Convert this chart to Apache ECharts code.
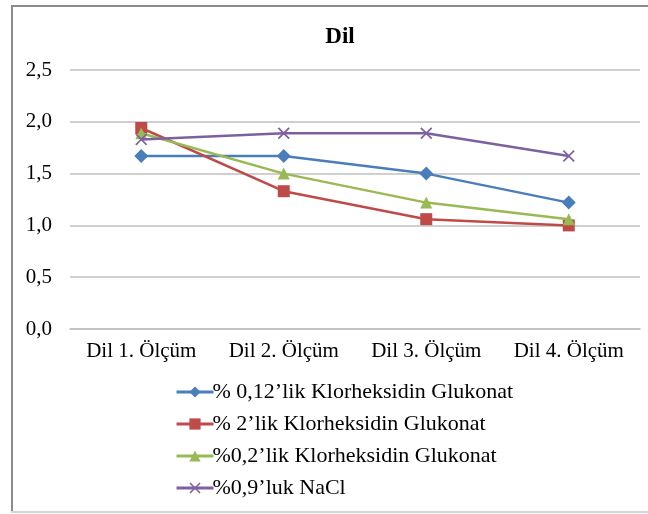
<!DOCTYPE html>
<html>
<head>
<meta charset="utf-8">
<script src="https://cdn.jsdelivr.net/npm/echarts@6/dist/echarts.min.js"></script>
<style>
  html, body { margin: 0; padding: 0; background: #fff; }
  #chart { width: 648px; height: 514px; }
</style>
</head>
<body>
<div id="chart"></div>
<script>
// kategoriler
var categories = ['Dil 1. Ölçüm', 'Dil 2. Ölçüm', 'Dil 3. Ölçüm', 'Dil 4. Ölçüm'];
var seriesNames = [
	'% 0,12’lik Klorheksidin Glukonat',
	'% 2’lik Klorheksidin Glukonat',
	'%0,2’lik Klorheksidin Glukonat',
	'%0,9’luk NaCl'
];
// ölçüm değerleri
var chx012 = [1.67, 1.67, 1.50, 1.22];
var chx2 = [1.94, 1.33, 1.06, 1.00];
var chx02 = [1.89, 1.50, 1.22, 1.06];
var nacl = [1.83, 1.89, 1.89, 1.67];
var yTicks = ['0,0', '0,5', '1,0', '1,5', '2,0', '2,5'];

var font = "'Liberation Serif', 'Times New Roman', serif";
var colors = ['#4a7ebb', '#be4b48', '#98b954', '#7d60a0'];
var xSymbol = 'path://M0,1 L1,0 L5,4 L9,0 L10,1 L6,5 L10,9 L9,10 L5,6 L1,10 L0,9 L4,5 Z';

var myChart = echarts.init(document.getElementById('chart'));

function lineSeries(idx, data, symbol, size) {
	return {
		name: seriesNames[idx],
		type: 'line',
		data: data,
		symbol: symbol,
		symbolSize: size,
		showAllSymbol: true,
		lineStyle: { color: colors[idx], width: 2.5 },
		itemStyle: { color: colors[idx] },
		z: 2 + idx
	};
}

var option = {
	animation: false,
	color: colors,
	textStyle: { fontFamily: font },
	title: {
		text: 'Dil',
		left: 335,
		textAlign: 'center',
		top: 21,
		textStyle: { fontFamily: font, fontSize: 23, fontWeight: 'bold', color: '#000' }
	},
	graphic: [
		{ type: 'line', shape: { x1: 12, y1: 5, x2: 12, y2: 512 }, style: { stroke: '#8c8c8c', lineWidth: 2 }, silent: true },
		{ type: 'line', shape: { x1: 11, y1: 6, x2: 648, y2: 6 }, style: { stroke: '#8c8c8c', lineWidth: 2 }, silent: true },
		{ type: 'line', shape: { x1: 11, y1: 512, x2: 648, y2: 512 }, style: { stroke: '#d4d4d4', lineWidth: 2 }, silent: true }
	],
	grid: { left: 70, right: 8, top: 70, bottom: 185 },
	legend: {
		orient: 'vertical',
		left: 170,
		top: 376,
		itemWidth: 37,
		itemHeight: 14,
		itemGap: 10,
		lineStyle: { width: 3 },
		textStyle: { fontFamily: font, fontSize: 22, color: '#000', padding: [0, 0, 0, -6] },
		data: seriesNames
	},
	xAxis: {
		type: 'category',
		data: categories,
		axisLine: { show: true, lineStyle: { color: '#c0c0c0', width: 1.5 } },
		axisTick: { show: false },
		axisLabel: { fontFamily: font, fontSize: 21, color: '#000', margin: 12, interval: 0 }
	},
	yAxis: {
		type: 'value',
		min: 0,
		max: 2.5,
		interval: 0.5,
		axisLine: { show: false },
		axisTick: { show: false },
		splitLine: { lineStyle: { color: '#c0c0c0', width: 1.5 } },
		axisLabel: {
			fontFamily: font,
			fontSize: 21,
			color: '#000',
			margin: 18,
			formatter: function (v) { return yTicks[Math.round(v / 0.5)]; }
		}
	},
	series: [
		lineSeries(0, chx012, 'diamond', 14),
		lineSeries(1, chx2, 'rect', 12),
		lineSeries(2, chx02, 'triangle', 12),
		lineSeries(3, nacl, xSymbol, 12)
	]
};

myChart.setOption(option);
</script>
</body>
</html>
